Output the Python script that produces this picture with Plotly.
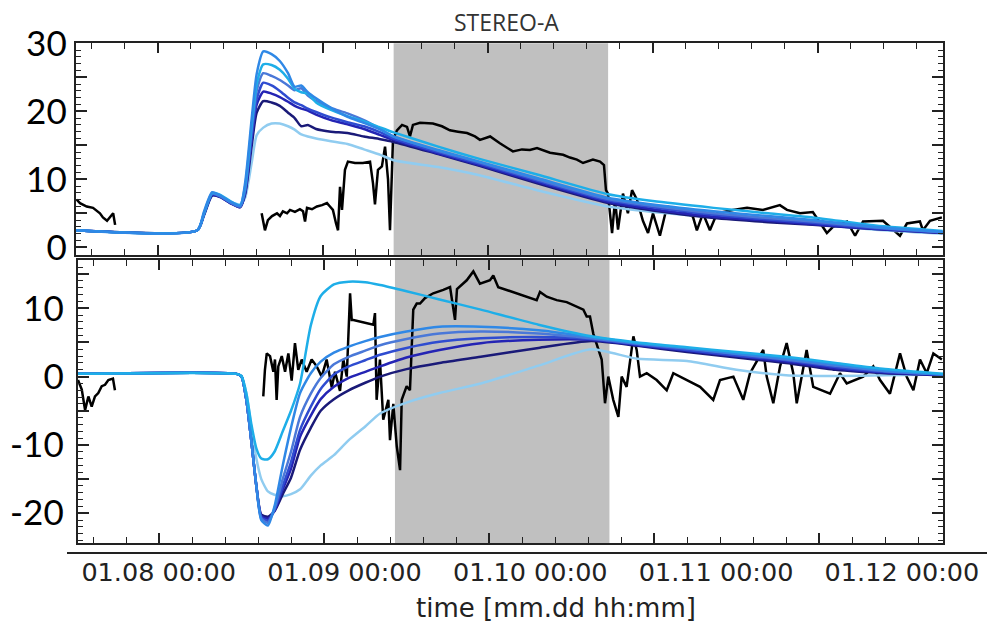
import plotly.graph_objects as go

# ---------------- data (time in days since 01.08 00:00) ----------------
SHADE = [1.43, 2.73]

TICK_DAYS = [0, 1, 2, 3, 4]
TICK_TEXT = ["01.08 00:00", "01.09 00:00", "01.10 00:00", "01.11 00:00", "01.12 00:00"]

# --- top panel: model runs ---
T_TOP = [-0.50, 0.24, 0.28, 0.33, 0.38, 0.44, 0.50, 0.53, 0.57, 0.60, 0.64, 0.69, 0.74, 0.79, 0.83,
         0.87, 0.91, 0.96, 1.05, 1.15, 1.25, 1.35, 1.43, 1.70, 1.95, 2.30, 2.73, 3.00, 3.37, 3.70,
         3.97, 4.35, 4.76]
TOP_A = [2.5, 2.5, 5.2, 8.1, 7.6, 6.7, 6.1, 9.5, 19.0, 25.5, 28.8, 28.4, 27.4, 25.6, 23.6, 23.8, 22.8,
         21.9, 20.5, 19.2, 18.3, 17.3, 16.3, 14.3, 12.6, 10.2, 7.3, 6.3, 5.3, 4.6, 4.0, 3.0, 2.3]
TOP_B = [2.5, 2.5, 5.0, 8.0, 7.7, 6.8, 6.2, 9.0, 18.0, 24.0, 26.9, 26.8, 26.1, 24.8, 23.3, 22.8, 22.6,
         21.3, 20.2, 19.3, 18.5, 17.6, 16.9, 14.8, 13.0, 10.7, 7.8, 6.8, 5.8, 5.0, 4.4, 3.2, 2.4]
TOP_C = [2.5, 2.5, 4.9, 7.9, 7.5, 6.6, 6.0, 8.5, 17.5, 23.0, 25.6, 25.2, 24.6, 23.8, 23.1, 23.4, 22.3,
         21.5, 20.5, 19.7, 18.7, 17.4, 16.3, 14.2, 12.5, 10.0, 7.1, 6.1, 5.0, 4.3, 3.8, 2.9, 2.2]
TOP_G = [2.5, 2.5, 4.8, 7.8, 7.5, 6.6, 6.0, 8.2, 16.5, 21.8, 24.2, 23.8, 23.0, 22.0, 21.3, 20.9, 20.4,
         19.9, 19.1, 18.4, 17.8, 16.9, 16.0, 14.0, 12.3, 9.8, 6.9, 5.9, 4.8, 4.1, 3.6, 2.8, 2.2]
TOP_D = [2.5, 2.5, 4.8, 7.7, 7.4, 6.5, 5.9, 8.0, 16.0, 21.0, 22.9, 22.6, 22.1, 21.4, 20.8, 20.4, 20.1,
         19.5, 18.7, 18.1, 17.4, 16.5, 15.8, 13.8, 12.1, 9.6, 6.7, 5.6, 4.5, 3.9, 3.4, 2.7, 2.1]
TOP_E = [2.5, 2.5, 4.7, 7.6, 7.4, 6.5, 5.9, 7.8, 15.0, 19.8, 21.5, 21.3, 20.8, 19.8, 19.0, 17.8, 18.0,
         17.4, 17.0, 16.8, 16.3, 15.9, 15.5, 13.7, 12.0, 9.4, 6.5, 5.4, 4.3, 3.7, 3.3, 2.7, 2.1]
TOP_F = [2.5, 2.5, 4.6, 7.6, 7.6, 6.7, 6.3, 7.3, 12.5, 16.5, 17.6, 18.2, 18.2, 17.8, 17.3, 16.6, 16.3,
         16.0, 15.6, 15.2, 14.4, 13.6, 12.8, 11.8, 10.6, 8.4, 6.0, 5.2, 4.4, 3.8, 3.4, 2.6, 2.0]

# --- bottom panel: model runs ---
T_BOT = [-0.50, 0.47, 0.50, 0.53, 0.56, 0.59, 0.62, 0.66, 0.70, 0.75, 0.80, 0.855, 0.92, 0.98, 1.06,
         1.15, 1.25, 1.34, 1.50, 1.70, 1.95, 2.30, 2.62, 2.90, 3.20, 3.50, 3.80, 4.10, 4.40, 4.76]
BOT_A = [0.4, 0.4, 0.0, -3.5, -9.5, -16.0, -21.0, -21.8, -19.0, -13.0, -7.5, -2.4, 0.5, 2.2, 3.5,
         4.4, 5.2, 5.8, 6.6, 7.3, 7.3, 6.8, 5.8, 4.9, 4.2, 3.4, 2.7, 1.8, 0.9, 0.3]
BOT_B = [0.4, 0.4, 0.1, -2.5, -7.0, -10.5, -12.0, -12.1, -11.0, -8.0, -5.0, -1.0, 7.5, 11.8, 13.5,
         13.9, 13.8, 13.4, 12.5, 11.3, 9.8, 7.6, 5.9, 5.0, 4.3, 3.6, 2.9, 2.0, 1.1, 0.4]
BOT_C = [0.4, 0.4, 0.0, -3.5, -9.5, -16.0, -20.8, -21.4, -19.3, -15.0, -11.0, -5.9, -2.5, -0.2, 1.8,
         2.9, 3.8, 4.6, 5.5, 6.3, 6.6, 6.3, 5.6, 4.8, 4.1, 3.3, 2.5, 1.6, 0.8, 0.3]
BOT_G = [0.4, 0.4, 0.0, -3.5, -9.5, -16.0, -20.6, -21.1, -19.5, -16.0, -12.5, -7.8, -4.4, -1.8, 0.3,
         1.5, 2.4, 3.2, 4.2, 5.1, 5.6, 5.8, 5.5, 4.7, 3.9, 3.1, 2.4, 1.4, 0.7, 0.3]
BOT_D = [0.4, 0.4, 0.0, -3.5, -9.5, -16.0, -20.4, -20.8, -19.6, -16.5, -13.5, -8.8, -5.7, -3.3, -1.5,
         -0.2, 0.7, 1.5, 2.8, 3.9, 4.9, 5.4, 5.4, 4.6, 3.8, 3.0, 2.2, 1.2, 0.6, 0.2]
BOT_E = [0.4, 0.4, 0.0, -3.5, -9.5, -16.0, -20.2, -20.5, -19.7, -17.2, -14.8, -10.7, -7.5, -5.0, -3.3,
         -2.0, -0.9, 0.0, 1.1, 2.0, 2.9, 4.2, 5.2, 4.5, 3.6, 2.8, 2.0, 1.0, 0.5, 0.2]
BOT_F = [0.4, 0.4, 0.0, -2.5, -7.5, -12.0, -15.0, -16.8, -17.3, -17.5, -17.2, -16.5, -14.5, -13.0, -11.5,
         -9.3, -7.3, -5.4, -3.8, -2.4, -1.0, 1.6, 4.0, 2.6, 2.3, 1.0, 0.2, 0.1, 0.2, 0.3]

# --- observations (None = data gap) ---
OBS_TOP_T = [-0.491, -0.471, -0.430, -0.392, -0.350, -0.332, -0.307, -0.289, -0.270, -0.258, None,
             0.630, 0.640, 0.650, 0.668, 0.693, 0.723, 0.741, 0.759, 0.784, 0.802, 0.832, 0.862, 0.881,
             0.893, 0.905, 0.935, 0.965, 0.996, 1.026, 1.044, 1.062, 1.081, 1.093, 1.105, 1.117, 1.135,
             1.153, 1.196, 1.244, 1.287, 1.305, 1.317, 1.335, 1.359, 1.378, 1.396, 1.408, 1.426, 1.450,
             1.481, 1.511, 1.529, 1.547, 1.590, 1.668, 1.723, 1.771, 1.820, 1.875, 1.923, 1.953, 2.015,
             2.074, 2.153, 2.208, 2.256, 2.299, 2.378, 2.457, 2.499, 2.541, 2.578, 2.638, 2.681, 2.705,
             2.717, 2.729, 2.754, 2.772, 2.790, 2.820, 2.850, 2.875, 2.905, 2.941, 2.972, 3.002, 3.044,
             3.087, 3.165, 3.244, 3.268, 3.305, 3.347, 3.390, 3.487, 3.572, 3.668, 3.771, 3.814, 3.893,
             3.971, 4.056, 4.093, 4.178, 4.227, 4.275, 4.396, 4.499, 4.541, 4.620, 4.638, 4.681, 4.753]
OBS_TOP_V = [7.0, 6.5, 6.0, 5.8, 5.0, 4.4, 3.9, 4.4, 5.0, 3.3, None,
             5.0, 3.5, 2.5, 4.0, 4.6, 5.0, 4.6, 5.3, 5.0, 5.5, 5.2, 5.6, 5.3,
             3.8, 5.8, 5.6, 6.0, 6.2, 6.5, 6.0, 5.5, 3.5, 2.5, 8.9, 5.5, 11.4,
             12.6, 12.4, 12.4, 12.6, 9.4, 6.3, 11.4, 11.9, 14.8, 10.0, 2.5, 15.8, 17.2,
             18.0, 17.7, 16.3, 18.0, 18.3, 18.2, 17.8, 17.2, 17.0, 16.8, 16.3, 15.8, 16.3,
             15.3, 14.1, 14.4, 14.3, 14.6, 13.9, 13.6, 13.2, 12.9, 12.4, 12.9, 12.6, 12.1,
             8.4, 7.9, 2.1, 7.0, 2.6, 7.9, 5.0, 8.4, 7.0, 3.9, 2.1, 5.0, 1.7,
             6.0, 5.5, 4.5, 2.5, 5.0, 2.5, 5.0, 5.5, 5.8, 5.5, 6.2, 5.5, 5.0,
             5.2, 2.1, 3.0, 3.8, 1.7, 3.8, 3.9, 1.7, 3.5, 3.8, 2.5, 3.9, 4.4]

OBS_BOT_T = [-0.491, -0.468, -0.448, -0.428, -0.408, -0.388, -0.368, -0.347, -0.327, -0.307, -0.279,
             -0.267, None,
             0.632, 0.642, 0.653, 0.673, 0.693, 0.703, 0.713, 0.723, 0.744, 0.764, 0.784, 0.804, 0.824,
             0.844, 0.865, 0.895, 0.925, 0.956, 0.986, 1.016, 1.047, 1.067, 1.097, 1.117, 1.138, 1.158,
             1.168, 1.178, 1.299, 1.309, 1.319, 1.339, 1.359, 1.390, 1.400, 1.420, 1.441, 1.461, 1.471,
             1.501, 1.521, 1.541, 1.562, 1.582, 1.612, 1.662, 1.723, 1.764, 1.794, 1.806, 1.865, 1.905,
             1.945, 2.006, 2.026, 2.056, 2.289, 2.309, 2.350, 2.410, 2.471, 2.531, 2.572, 2.592, 2.612,
             2.632, 2.662, 2.683, 2.703, 2.723, 2.753, 2.784, 2.804, 2.834, 2.875, 2.895, 2.915, 2.956,
             3.016, 3.077, 3.117, 3.198, 3.279, 3.359, 3.400, 3.481, 3.541, 3.582, 3.662, 3.683, 3.723,
             3.764, 3.804, 3.844, 3.865, 3.925, 3.965, 4.067, 4.127, 4.168, 4.268, 4.329, 4.370, 4.430,
             4.491, 4.531, 4.572, 4.612, 4.653, 4.693, 4.745]
OBS_BOT_V = [-0.5, -1.9, -4.9, -2.9, -4.4, -2.9, -2.4, -1.4, -1.2, -0.5, -0.3,
             -2.0, None,
             -2.9, 1.0, 3.4, 3.0, 0.7, 2.5, -3.4, 1.5, 3.0, 0.7, 3.4, -0.6, 4.9,
             1.0, 2.5, 0.7, 2.5, 1.5, 0.0, 2.5, -1.6, 0.7, -2.1, 2.5, 0.0, 12.2,
             8.3, 8.3, 7.6, 9.3, -3.4, 2.5, -6.3, -3.4, -9.3, -4.0, -10.2, -13.7, -3.4,
             -1.4, -2.0, 9.8, 10.7, 10.7, 11.5, 12.2, 12.7, 13.1, 8.3, 12.8, 14.1, 15.4,
             13.6, 14.1, 14.8, 13.1, 11.2, 12.4, 11.7, 11.2, 10.9, 10.2, 9.8, 8.8, 8.8,
             6.3, 3.9, 2.5, -3.9, 0.0, -3.4, -5.9, 0.0, -1.5, 5.9, 3.9, 0.0, 0.5,
             -0.5, -2.0, 0.5, -0.5, -1.5, -3.4, -0.5, 0.0, -3.4, 0.5, 3.9, 0.0, -3.9,
             1.5, 4.9, 0.5, -3.9, 3.9, -1.5, -2.5, 0.5, -1.0, 0.0, 1.5, -0.5, -2.5,
             3.4, 0.0, -2.0, 2.5, 0.5, 3.4, 2.5]

# ---------------- styling ----------------
W, H = 987, 624
COLORS = {"A": "#2f88e6", "B": "#1eaee8", "C": "#4a78d8", "G": "#2f4cd0",
          "D": "#2424b4", "E": "#1a1a78", "F": "#90ccf0"}
TOP_RUNS = [("F", TOP_F), ("E", TOP_E), ("D", TOP_D), ("G", TOP_G), ("C", TOP_C), ("B", TOP_B), ("A", TOP_A)]
BOT_RUNS = [("F", BOT_F), ("E", BOT_E), ("D", BOT_D), ("G", BOT_G), ("C", BOT_C), ("A", BOT_A), ("B", BOT_B)]

fig = go.Figure()

fig.add_trace(go.Scatter(x=OBS_TOP_T, y=OBS_TOP_V, mode="lines", xaxis="x", yaxis="y",
                         line=dict(color="black", width=2.5), connectgaps=False,
                         showlegend=False, hoverinfo="skip"))
for key, vals in TOP_RUNS:
    fig.add_trace(go.Scatter(x=T_TOP, y=vals, mode="lines", xaxis="x", yaxis="y",
                             line=dict(color=COLORS[key], width=2.5, shape="spline", smoothing=0.6),
                             showlegend=False, hoverinfo="skip"))

fig.add_trace(go.Scatter(x=OBS_BOT_T, y=OBS_BOT_V, mode="lines", xaxis="x2", yaxis="y2",
                         line=dict(color="black", width=2.5), connectgaps=False,
                         showlegend=False, hoverinfo="skip"))
for key, vals in BOT_RUNS:
    fig.add_trace(go.Scatter(x=T_BOT, y=vals, mode="lines", xaxis="x2", yaxis="y2",
                             line=dict(color=COLORS[key], width=2.5, shape="spline", smoothing=0.6),
                             showlegend=False, hoverinfo="skip"))

# invisible trace carrying the separate date-label axis
fig.add_trace(go.Scatter(x=TICK_DAYS, y=[None] * len(TICK_DAYS), mode="lines", xaxis="x3", yaxis="y3",
                         showlegend=False, hoverinfo="skip"))

def px_x(p):
    return p / W

def px_y(p):
    return 1 - p / H

AX = dict(showline=True, linecolor="#222", linewidth=2, mirror="allticks", showgrid=False,
          zeroline=False, ticks="inside", tickcolor="#222", tickwidth=1.5, automargin=False)

fig.update_layout(
    template="none",
    width=W, height=H, margin=dict(l=0, r=0, t=0, b=0, pad=0, autoexpand=False),
    paper_bgcolor="white", plot_bgcolor="rgba(0,0,0,0)",
    showlegend=False,
    xaxis=dict(AX, domain=[px_x(75.7), px_x(942.7)], range=[-0.497, 4.758], anchor="y",
               tick0=0, dtick=1, ticklen=10, showticklabels=False,
               minor=dict(tick0=0, dtick=0.2, ticks="inside", ticklen=6, tickwidth=1.2, tickcolor="#222")),
    yaxis=dict(AX, domain=[px_y(255), px_y(43.3)], range=[-1.13, 30.0], anchor="x",
               tickvals=[0, 5, 10, 15, 20, 25, 30], ticktext=["0", "", "10", "", "20", "", "30"],
               ticklen=11, ticklabelstandoff=0,
               tickfont=dict(family="Lato", size=35, color="black"),
               minor=dict(dtick=1, ticks="inside", ticklen=5, tickwidth=1.2, tickcolor="#222")),
    xaxis2=dict(AX, domain=[px_x(77.7), px_x(943.3)], range=[-0.4927, 4.7533], anchor="y2",
                tick0=0, dtick=1, ticklen=10, showticklabels=False,
                minor=dict(tick0=0, dtick=0.2, ticks="inside", ticklen=6, tickwidth=1.2, tickcolor="#222")),
    yaxis2=dict(AX, domain=[px_y(543.3), px_y(260)], range=[-24.4, 17.07], anchor="x2",
                tickvals=[-20, -15, -10, -5, 0, 5, 10, 15], ticktext=["-20", "", "-10", "", "0", "", "10", ""],
                ticklen=11, ticklabelstandoff=5,
                tickfont=dict(family="Lato", size=35, color="black"),
                minor=dict(dtick=1, ticks="inside", ticklen=5, tickwidth=1.2, tickcolor="#222")),
    xaxis3=dict(domain=[px_x(67), 1.0], range=[-0.4935, 4.458], anchor="free", position=px_y(553),
                showline=True, linecolor="#222", linewidth=2, showgrid=False, zeroline=False,
                ticks="", tickvals=TICK_DAYS, ticktext=TICK_TEXT, ticklabelstandoff=-4, automargin=False,
                tickfont=dict(family="DejaVu Sans", size=25.5, color="#222")),
    yaxis3=dict(domain=[0, 0.01], anchor="x3", visible=False, range=[0, 1], automargin=False),
    shapes=[
        dict(type="rect", xref="x", yref="y domain", x0=SHADE[0], x1=SHADE[1], y0=0, y1=1,
             fillcolor="#c0c0c0", line=dict(width=0), layer="below"),
        dict(type="rect", xref="x2", yref="y2 domain", x0=SHADE[0], x1=SHADE[1], y0=0, y1=1,
             fillcolor="#c0c0c0", line=dict(width=0), layer="below"),
    ],
    annotations=[
        dict(text="STEREO-A", xref="paper", yref="paper", x=px_x(506.5), y=px_y(22),
             xanchor="center", yanchor="middle", showarrow=False,
             font=dict(family="Open Sans", size=23, color="#333")),
        dict(text="time [mm.dd hh:mm]", xref="paper", yref="paper", x=px_x(556), y=px_y(608),
             xanchor="center", yanchor="middle", showarrow=False,
             font=dict(family="DejaVu Sans", size=26, color="#222")),
    ],
)

fig.write_html("out.html")
